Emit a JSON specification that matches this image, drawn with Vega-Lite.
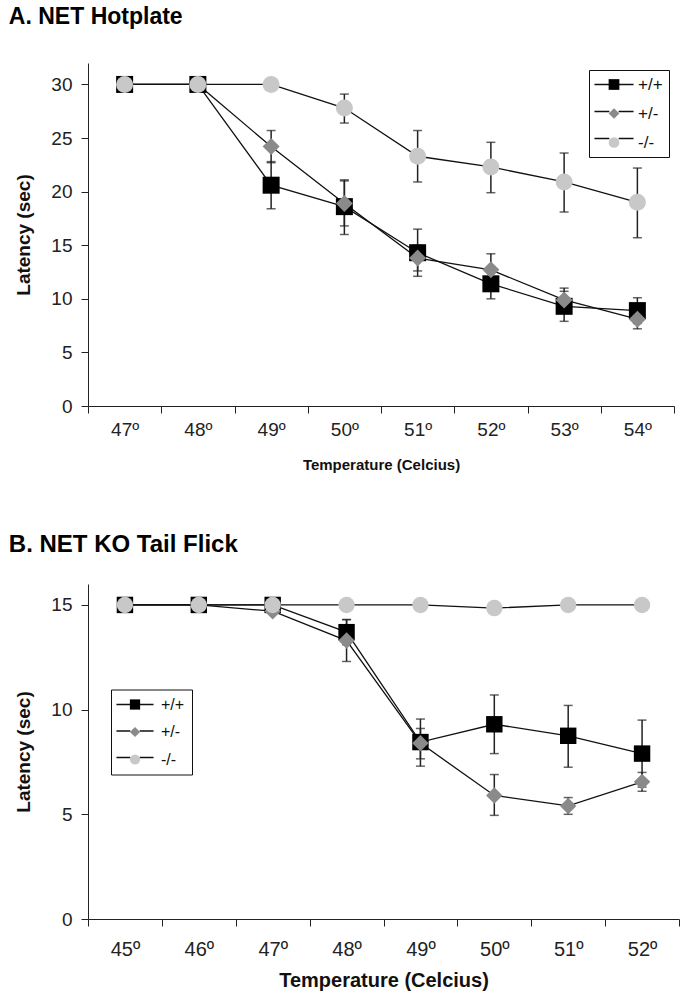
{
  "$schema": "https://vega.github.io/schema/vega-lite/v6.json",
  "background": "white",
  "padding": {"left": 8, "top": 6, "right": 5, "bottom": 5},
  "config": {
    "view": {"stroke": null},
    "font": "Liberation Sans",
    "axis": {"domainColor": "#222222", "tickColor": "#222222", "labelColor": "#222222", "titleColor": "#111111", "grid": false, "labelFont": "Liberation Sans", "titleFont": "Liberation Sans", "titleFontWeight": "bold"},
    "legend": {"labelFont": "Liberation Sans", "labelColor": "#111111"}
  },
  "spacing": 61,
  "resolve": {
    "scale": {"stroke": "independent", "fill": "independent", "shape": "independent"},
    "legend": {"stroke": "independent", "fill": "independent", "shape": "independent"}
  },
  "datasets": {
    "hot": [
      {"genotype": "+/+", "temp": 47, "mean": 30, "lo": null, "hi": null},
      {"genotype": "+/+", "temp": 48, "mean": 30, "lo": null, "hi": null},
      {"genotype": "+/+", "temp": 49, "mean": 20.6, "lo": 18.4, "hi": 22.8},
      {"genotype": "+/+", "temp": 50, "mean": 18.6, "lo": 16.0, "hi": 21.1},
      {"genotype": "+/+", "temp": 51, "mean": 14.3, "lo": 12.1, "hi": 16.5},
      {"genotype": "+/+", "temp": 52, "mean": 11.4, "lo": 10.0, "hi": 12.8},
      {"genotype": "+/+", "temp": 53, "mean": 9.3, "lo": 7.9, "hi": 10.7},
      {"genotype": "+/+", "temp": 54, "mean": 8.9, "lo": 7.7, "hi": 10.1},
      {"genotype": "+/-", "temp": 47, "mean": 30, "lo": null, "hi": null},
      {"genotype": "+/-", "temp": 48, "mean": 30, "lo": null, "hi": null},
      {"genotype": "+/-", "temp": 49, "mean": 24.2, "lo": 22.7, "hi": 25.7},
      {"genotype": "+/-", "temp": 50, "mean": 18.9, "lo": 16.8, "hi": 21.0},
      {"genotype": "+/-", "temp": 51, "mean": 13.8, "lo": 12.6, "hi": 15.0},
      {"genotype": "+/-", "temp": 52, "mean": 12.7, "lo": 11.2, "hi": 14.2},
      {"genotype": "+/-", "temp": 53, "mean": 9.9, "lo": 8.8, "hi": 11.0},
      {"genotype": "+/-", "temp": 54, "mean": 8.1, "lo": 7.2, "hi": 9.0},
      {"genotype": "-/-", "temp": 47, "mean": 30, "lo": null, "hi": null},
      {"genotype": "-/-", "temp": 48, "mean": 30, "lo": null, "hi": null},
      {"genotype": "-/-", "temp": 49, "mean": 30, "lo": null, "hi": null},
      {"genotype": "-/-", "temp": 50, "mean": 27.8, "lo": 26.4, "hi": 29.1},
      {"genotype": "-/-", "temp": 51, "mean": 23.3, "lo": 20.9, "hi": 25.7},
      {"genotype": "-/-", "temp": 52, "mean": 22.3, "lo": 19.9, "hi": 24.6},
      {"genotype": "-/-", "temp": 53, "mean": 20.9, "lo": 18.1, "hi": 23.6},
      {"genotype": "-/-", "temp": 54, "mean": 19.0, "lo": 15.7, "hi": 22.2}
    ],
    "tail": [
      {"genotype": "+/+", "temp": 45, "mean": 15, "lo": null, "hi": null},
      {"genotype": "+/+", "temp": 46, "mean": 15, "lo": null, "hi": null},
      {"genotype": "+/+", "temp": 47, "mean": 15, "lo": null, "hi": null},
      {"genotype": "+/+", "temp": 48, "mean": 13.7, "lo": 13.1, "hi": 14.3},
      {"genotype": "+/+", "temp": 49, "mean": 8.45, "lo": 7.3, "hi": 9.55},
      {"genotype": "+/+", "temp": 50, "mean": 9.3, "lo": 7.9, "hi": 10.7},
      {"genotype": "+/+", "temp": 51, "mean": 8.75, "lo": 7.25, "hi": 10.2},
      {"genotype": "+/+", "temp": 52, "mean": 7.9, "lo": 6.3, "hi": 9.5},
      {"genotype": "+/-", "temp": 45, "mean": 15, "lo": null, "hi": null},
      {"genotype": "+/-", "temp": 46, "mean": 15, "lo": null, "hi": null},
      {"genotype": "+/-", "temp": 47, "mean": 14.7, "lo": null, "hi": null},
      {"genotype": "+/-", "temp": 48, "mean": 13.3, "lo": 12.3, "hi": 14.3},
      {"genotype": "+/-", "temp": 49, "mean": 8.4, "lo": 7.65, "hi": 9.1},
      {"genotype": "+/-", "temp": 50, "mean": 5.9, "lo": 4.95, "hi": 6.9},
      {"genotype": "+/-", "temp": 51, "mean": 5.4, "lo": 5.0, "hi": 5.8},
      {"genotype": "+/-", "temp": 52, "mean": 6.55, "lo": 6.1, "hi": 7.0},
      {"genotype": "-/-", "temp": 45, "mean": 15, "lo": null, "hi": null},
      {"genotype": "-/-", "temp": 46, "mean": 15, "lo": null, "hi": null},
      {"genotype": "-/-", "temp": 47, "mean": 15, "lo": null, "hi": null},
      {"genotype": "-/-", "temp": 48, "mean": 15, "lo": null, "hi": null},
      {"genotype": "-/-", "temp": 49, "mean": 15, "lo": null, "hi": null},
      {"genotype": "-/-", "temp": 50, "mean": 14.85, "lo": null, "hi": null},
      {"genotype": "-/-", "temp": 51, "mean": 15, "lo": null, "hi": null},
      {"genotype": "-/-", "temp": 52, "mean": 15, "lo": null, "hi": null}
    ]
  },
  "vconcat": [
    {
      "title": {"text": "A. NET Hotplate", "anchor": "start", "frame": "bounds", "fontSize": 23, "fontWeight": "bold", "font": "Liberation Sans", "color": "#000000", "offset": 34, "dx": -6},
      "width": 586,
      "height": 343,
      "data": {"name": "hot"},
      "encoding": {
        "x": {"field": "temp", "type": "quantitative",
          "scale": {"domain": [46.5, 54.5], "nice": false, "zero": false},
          "axis": {"values": [46.5, 47, 47.5, 48, 48.5, 49, 49.5, 50, 50.5, 51, 51.5, 52, 52.5, 53, 53.5, 54, 54.5],
            "labelExpr": "datum.value % 1 == 0 ? datum.value + 'º' : ''",
            "tickOpacity": {"condition": {"test": "datum.value % 1 != 0", "value": 1}, "value": 0},
            "tickSize": 7, "labelFontSize": 19, "labelPadding": 7, "labelOverlap": false, "labelFlush": false,
            "title": "Temperature (Celcius)", "titleFontSize": 15, "titlePadding": 18}}
      },
      "layer": [
        {
          "transform": [{"filter": "datum.lo != null"}],
          "mark": {"type": "errorbar", "color": "#222222", "thickness": 1.5, "ticks": {"size": 9, "thickness": 1.5, "color": "#222222"}},
          "encoding": {
            "y": {"field": "lo", "type": "quantitative", "scale": {"domain": [0, 32], "nice": false},
              "axis": {"values": [0, 5, 10, 15, 20, 25, 30], "tickSize": 7, "labelFontSize": 19, "labelPadding": 9, "title": "Latency (sec)", "titleFontSize": 19, "titlePadding": 17}},
            "y2": {"field": "hi"}
          }
        },
        {
          "mark": {"type": "line", "strokeWidth": 1.3},
          "encoding": {
            "y": {"field": "mean", "type": "quantitative"},
            "stroke": {"field": "genotype", "type": "nominal",
              "scale": {"range": ["#111111", "#111111", "#111111"]},
              "legend": {"orient": "none", "legendX": 509.5, "legendY": 5, "title": null, "symbolType": "M-2.3,0H-0.55M0.55,0H2.3", "symbolSize": 289, "symbolStrokeWidth": 1.3, "labelExpr": "''", "labelFontSize": 17, "padding": 7, "rowPadding": 9, "labelOffset": 3}}
          }
        },
        {
          "mark": {"type": "point", "filled": true, "opacity": 1, "strokeWidth": 0, "size": 289},
          "encoding": {
            "y": {"field": "mean", "type": "quantitative"},
            "shape": {"field": "genotype", "type": "nominal",
              "scale": {"domain": ["+/+", "+/-", "-/-"], "range": ["square", "diamond", "circle"]},
              "legend": {"orient": "none", "legendX": 501, "legendY": 7, "title": null, "symbolSize": 115, "symbolStrokeWidth": 0, "symbolOffset": 10.5, "labelFontSize": 17, "padding": 6, "rowPadding": 11, "labelOffset": 15.5, "strokeColor": "#111111"}},
            "fill": {"field": "genotype", "type": "nominal",
              "scale": {"domain": ["+/+", "+/-", "-/-"], "range": ["#000000", "#8a8a8a", "#c8c8c8"]},
              "legend": {"orient": "none", "legendX": 501, "legendY": 7, "title": null, "symbolSize": 115, "symbolStrokeWidth": 0, "symbolOffset": 10.5, "labelFontSize": 17, "padding": 6, "rowPadding": 11, "labelOffset": 15.5, "strokeColor": "#111111"}}
          }
        }
      ]
    },
    {
      "title": {"text": "B.  NET KO Tail Flick", "anchor": "start", "frame": "bounds", "fontSize": 24, "fontWeight": "bold", "font": "Liberation Sans", "color": "#000000", "offset": 27, "dx": -6},
      "width": 591,
      "height": 335,
      "data": {"name": "tail"},
      "encoding": {
        "x": {"field": "temp", "type": "quantitative",
          "scale": {"domain": [44.5, 52.5], "nice": false, "zero": false},
          "axis": {"values": [44.5, 45, 45.5, 46, 46.5, 47, 47.5, 48, 48.5, 49, 49.5, 50, 50.5, 51, 51.5, 52, 52.5],
            "labelExpr": "datum.value % 1 == 0 ? datum.value + 'º' : ''",
            "tickOpacity": {"condition": {"test": "datum.value % 1 != 0", "value": 1}, "value": 0},
            "tickSize": 7, "labelFontSize": 20, "labelPadding": 13, "labelOverlap": false, "labelFlush": false,
            "title": "Temperature (Celcius)", "titleFontSize": 20, "titlePadding": 11}}
      },
      "layer": [
        {
          "transform": [{"filter": "datum.lo != null"}],
          "mark": {"type": "errorbar", "color": "#222222", "thickness": 1.5, "ticks": {"size": 9, "thickness": 1.5, "color": "#222222"}},
          "encoding": {
            "y": {"field": "lo", "type": "quantitative", "scale": {"domain": [0, 16], "nice": false},
              "axis": {"values": [0, 5, 10, 15], "tickSize": 7, "labelFontSize": 19, "labelPadding": 9, "title": "Latency (sec)", "titleFontSize": 19, "titlePadding": 17}},
            "y2": {"field": "hi"}
          }
        },
        {
          "mark": {"type": "line", "strokeWidth": 1.3},
          "encoding": {
            "y": {"field": "mean", "type": "quantitative"},
            "stroke": {"field": "genotype", "type": "nominal",
              "scale": {"range": ["#111111", "#111111", "#111111"]},
              "legend": {"orient": "none", "legendX": 30.5, "legendY": 104, "title": null, "symbolType": "M-2.18,0H-0.55M0.55,0H2.18", "symbolSize": 289, "symbolStrokeWidth": 1.3, "labelExpr": "''", "labelFontSize": 16, "padding": 7, "rowPadding": 8.5, "labelOffset": 3}}
          }
        },
        {
          "mark": {"type": "point", "filled": true, "opacity": 1, "strokeWidth": 0, "size": 270},
          "encoding": {
            "y": {"field": "mean", "type": "quantitative"},
            "shape": {"field": "genotype", "type": "nominal",
              "scale": {"domain": ["+/+", "+/-", "-/-"], "range": ["square", "diamond", "circle"]},
              "legend": {"orient": "none", "legendX": 23, "legendY": 105.5, "title": null, "symbolSize": 105, "symbolStrokeWidth": 0, "symbolOffset": 9, "labelFontSize": 16, "padding": 7, "rowPadding": 11.5, "labelOffset": 18, "strokeColor": "#111111"}},
            "fill": {"field": "genotype", "type": "nominal",
              "scale": {"domain": ["+/+", "+/-", "-/-"], "range": ["#000000", "#8a8a8a", "#c8c8c8"]},
              "legend": {"orient": "none", "legendX": 23, "legendY": 105.5, "title": null, "symbolSize": 105, "symbolStrokeWidth": 0, "symbolOffset": 9, "labelFontSize": 16, "padding": 7, "rowPadding": 11.5, "labelOffset": 18, "strokeColor": "#111111"}}
          }
        }
      ]
    }
  ]
}
